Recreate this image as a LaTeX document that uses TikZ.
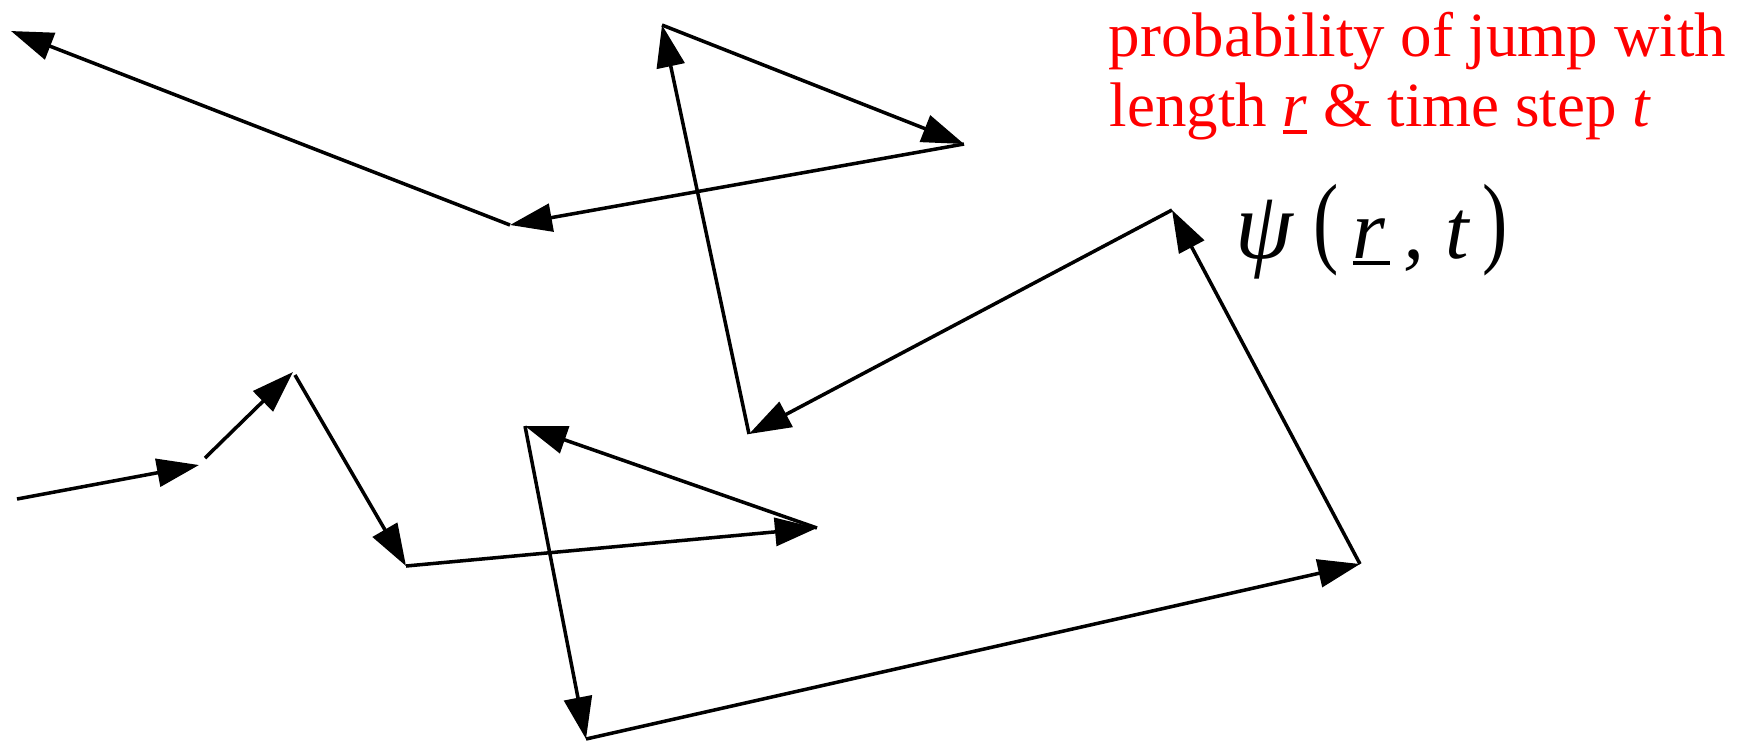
\documentclass[tikz,border=0pt]{standalone}
\usepackage{fontspec}
\setmainfont{Liberation Serif}
\usepackage{graphicx}
\usetikzlibrary{arrows.meta}
\tikzset{
  jump/.style={line width=1pt, line join=miter, -{Triangle[length=0.42cm,width=0.28cm]}},
  redtxt/.style={text=red, inner sep=0pt, anchor=base west, font=\fontsize{17.9pt}{20pt}\selectfont},
  psitxt/.style={inner sep=0pt, anchor=base west, font=\fontsize{24pt}{28pt}\selectfont},
}
\newcommand{\bigpar}[1]{\raisebox{0.04em}{\scalebox{0.9}[1.2]{\upshape #1}}}
\newcommand{\at}[2]{\rlap{\hspace{#1}#2}}
\newcommand{\thickul}[3]{\setbox0\hbox{#1}\rlap{\rule[#2]{\wd0}{#3}}\box0\relax}
\begin{document}
\begin{tikzpicture}[x=0.01cm,y=-0.01cm]
\useasboundingbox (0,0) rectangle (1751,741);
\coordinate (p0) at (17,499);
\coordinate (p1) at (199,465);
\coordinate (p1s) at (205,458);
\coordinate (p2) at (293,372);
\coordinate (p2s) at (295,375);
\coordinate (p3) at (406,566);
\coordinate (p4) at (817,528);
\coordinate (p5) at (525,426);
\coordinate (p6) at (586,739);
\coordinate (p7) at (1360,564);
\coordinate (p8) at (1172,210);
\coordinate (p9) at (749,434);
\coordinate (p10) at (662,25);
\coordinate (p11) at (964,144);
\coordinate (p12) at (510,225);
\coordinate (p13) at (11,31);
\draw[jump] (p0) -- (p1);
\draw[jump] (p1s) -- (p2);
\draw[jump] (p2s) -- (p3);
\draw[jump] (p3) -- (p4);
\draw[jump] (p4) -- (p5);
\draw[jump] (p5) -- (p6);
\draw[jump] (p6) -- (p7);
\draw[jump] (p7) -- (p8);
\draw[jump] (p8) -- (p9);
\draw[jump] (p9) -- (p10);
\draw[jump] (p10) -- (p11);
\draw[jump] (p11) -- (p12);
\draw[jump] (p12) -- (p13);
\node[redtxt] (l1) at (1108,56) {probability of jump with};
\node[redtxt] (l2) at (1109,126) {length \thickul{\textit{r}}{-0.12em}{0.05em} \& time step \textit{t}};
\node[psitxt] (psi) at (1235,258) {\itshape\at{0cm}{\scalebox{1.1}[1.15]{ψ}}\at{0.78cm}{\bigpar{(}}\at{1.17cm}{\thickul{r\hspace{0.05em}}{-0.08em}{0.04em}}\at{1.68cm}{,}\at{2.10cm}{t}\hspace{2.47cm}\bigpar{)}};
\end{tikzpicture}
\end{document}
